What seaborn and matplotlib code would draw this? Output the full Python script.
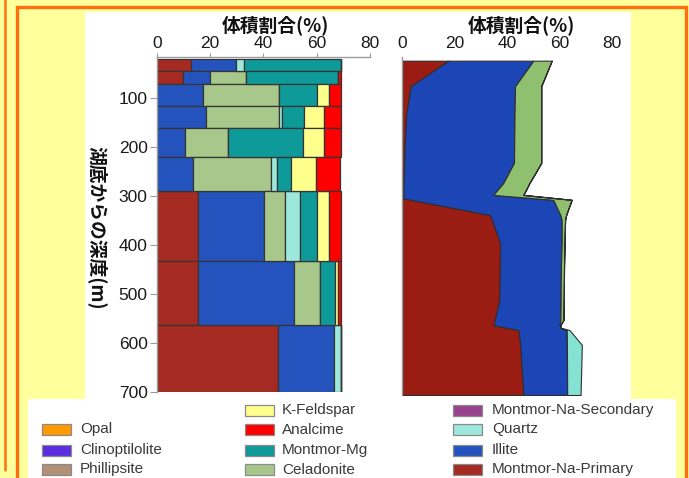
import numpy as np
import pandas as pd
import matplotlib
matplotlib.use("Agg")
import matplotlib.pyplot as plt
from matplotlib.patches import Rectangle
from matplotlib.lines import Line2D
import seaborn as sns

# ---------------------------------------------------------------
# Left panel: mineral volume fractions (%) of the sampled units
# ---------------------------------------------------------------
unit_edges = [21, 46, 73, 117, 163, 221, 291, 433, 563, 700]   # depth (m)

bar_na_primary = [13.0, 10.0, 0, 0, 0, 0, 15.4, 15.4, 45.6]
bar_illite     = [16.6, 10.0, 17.3, 18.5, 10.6, 13.8, 25.0, 36.0, 21.0]
bar_celadonite = [0, 13.6, 28.6, 27.4, 16.3, 28.9, 7.8, 9.8, 0]
bar_quartz     = [3.3, 0, 0, 1.0, 0, 2.6, 5.6, 0, 2.4]
bar_montmor_mg = [36.2, 34.4, 14.1, 8.4, 28.0, 4.9, 6.2, 5.7, 0]
bar_k_feldspar = [0, 0, 4.6, 7.6, 8.0, 9.7, 4.6, 1.1, 0]
bar_analcime   = [0, 1.0, 4.4, 6.2, 6.2, 9.0, 4.4, 1.0, 0]

# ---------------------------------------------------------------
# Right panel: simulated volume fractions (%) along the depth
# ---------------------------------------------------------------
sim_depth      = [20, 72, 130, 181, 228, 269, 293, 300, 303, 334, 344,
                  391, 439, 507, 547, 558, 563, 568, 598, 700]
sim_na_primary = [17.6, 3.2, 1.5, 1.0, 0.7, 0.5, 0.4, 0.4, 3.3, 33.5, 34.2,
                  37.3, 37.2, 37.0, 35.3, 34.8, 39.5, 44.3, 45.0, 46.2]
sim_illite     = [32.4, 39.8, 41.3, 41.7, 41.9, 38.0, 34.3, 50.3, 54.3, 26.8, 26.6,
                  23.5, 23.3, 23.4, 25.0, 25.2, 20.8, 18.4, 17.8, 16.7]
sim_celadonite = [7.0, 10.0, 10.2, 10.3, 10.4, 10.0, 11.5, 8.4, 7.0, 2.2, 1.3,
                  1.1, 1.2, 1.2, 1.2, 0.3, 0, 0, 0, 0]
sim_quartz     = [0, 0, 0, 0, 0, 0, 0, 0, 0, 0, 0,
                  0, 0, 0, 0, 0, 0, 1.1, 5.7, 5.1]

x_ticks = [0, 20, 40, 60, 80]
depth_ticks = [100, 200, 300, 400, 500, 600, 700]

legend_columns = [
    ["", "Opal", "Clinoptilolite", "Phillipsite"],
    ["K-Feldspar", "Analcime", "Montmor-Mg", "Celadonite"],
    ["Montmor-Na-Secondary", "Quartz", "Illite", "Montmor-Na-Primary"],
]

palette = {
    "Opal": "#ff9a00",
    "Clinoptilolite": "#5a2ee0",
    "Phillipsite": "#b39076",
    "K-Feldspar": "#ffff8c",
    "Analcime": "#ff0000",
    "Montmor-Mg": "#0e9a98",
    "Celadonite": "#a7c88a",
    "Montmor-Na-Secondary": "#98428e",
    "Quartz": "#9ce8dc",
    "Illite": "#2553be",
    "Montmor-Na-Primary": "#a52a22",
}
area_palette = {
    "Montmor-Na-Primary": "#9b1c12",
    "Illite": "#1c45b5",
    "Celadonite": "#8fc070",
    "Quartz": "#86e3d3",
}

# ---------------------------------------------------------------
sns.set_style("ticks")
plt.rcParams["font.family"] = ["Liberation Sans", "Noto Sans CJK JP"]
plt.rcParams["axes.linewidth"] = 1.0

W, H = 689, 478
fig = plt.figure(figsize=(W / 100, H / 100), dpi=100, facecolor="#ffff9c")


def fx(x):
    return x / W


def fy(y):
    return 1 - y / H


def px_rect(x0, y0, x1, y1, **kw):
    r = Rectangle((fx(x0), fy(y1)), (x1 - x0) / W, (y1 - y0) / H,
                  transform=fig.transFigure, **kw)
    fig.add_artist(r)
    return r


orange = "#ff6f0f"
# slide frame and white panels
fig.add_artist(Line2D([fx(4.5), fx(4.5)], [fy(0), fy(470)], color=orange,
                      lw=1.8, transform=fig.transFigure, zorder=-3))
px_rect(17, 6.5, 685.5, 520, facecolor="none", edgecolor=orange, lw=2.4, zorder=-3)
px_rect(85, 12, 631, 400, facecolor="white", edgecolor="none", zorder=-2)
px_rect(28, 399, 676, 480, facecolor="white", edgecolor="none", zorder=-2)

# ---------------- left: stacked bars per unit ------------------
ax1 = fig.add_axes([fx(156.7), fy(392), (370 - 156.7) / W, (392 - 57.3) / H])
ax1.set_facecolor("white")

unit_mid = [(a + b) / 2 for a, b in zip(unit_edges[:-1], unit_edges[1:])]
bar_series = {
    "Montmor-Na-Primary": bar_na_primary,
    "Illite": bar_illite,
    "Celadonite": bar_celadonite,
    "Quartz": bar_quartz,
    "Montmor-Mg": bar_montmor_mg,
    "K-Feldspar": bar_k_feldspar,
    "Analcime": bar_analcime,
}
rows = []
for name, vals in bar_series.items():
    for d, v in zip(unit_mid, vals):
        if v > 0:
            rows.append((d, name, v))
bars = pd.DataFrame(rows, columns=["depth", "mineral", "pct"])
stack_order = list(bar_series.keys())

sns.histplot(data=bars, y="depth", weights="pct", hue="mineral",
             hue_order=stack_order[::-1], bins=unit_edges, multiple="stack",
             palette=palette, alpha=1, edgecolor="#353535", linewidth=0.9,
             legend=False, ax=ax1)

ax1.set_xlim(0, 80)
ax1.set_ylim(700, 18)
ax1.set_xlabel("")
ax1.set_ylabel("")
ax1.set_xticks(x_ticks)
ax1.set_yticks(depth_ticks)
ax1.xaxis.tick_top()
ax1.tick_params(axis="x", top=True, bottom=False, labeltop=True, labelbottom=False,
                length=3, width=0.8, pad=1.5, labelsize=12.5, color="#999999",
                labelcolor="#1a1a1a")
ax1.tick_params(axis="y", left=True, length=5, width=0.8, pad=1.5, labelsize=12.5,
                color="#999999", labelcolor="#1a1a1a")
for side in ("right", "bottom"):
    ax1.spines[side].set_visible(False)
for side in ("top", "left"):
    ax1.spines[side].set_color("#9a9a9a")

# ---------------- right: stacked areas along depth -------------
ax2 = fig.add_axes([fx(402.3), fy(395), (612 - 402.3) / W, (395 - 57) / H])
ax2.set_facecolor("white")

area_series = {
    "Montmor-Na-Primary": sim_na_primary,
    "Illite": sim_illite,
    "Celadonite": sim_celadonite,
    "Quartz": sim_quartz,
}
depth = np.array(sim_depth, dtype=float)
left = np.zeros_like(depth)
for name, vals in area_series.items():
    right = left + np.array(vals, dtype=float)
    ax2.fill_betweenx(depth, left, right, facecolor=area_palette[name],
                      edgecolor="#2e2e2e", linewidth=0.8)
    left = right

ax2.set_xlim(0, 80)
ax2.set_ylim(700, 12.5)
ax2.set_xticks(x_ticks)
ax2.set_yticks([])
ax2.xaxis.tick_top()
ax2.tick_params(axis="x", top=True, bottom=False, labeltop=True, labelbottom=False,
                length=0, pad=4.5, labelsize=12.5, labelcolor="#1a1a1a")
for side in ("right", "bottom", "top"):
    ax2.spines[side].set_visible(False)
ax2.spines["left"].set_color("#9a9a9a")

# ---------------- titles and axis label ------------------------
cjk = ["Noto Sans CJK JP", "DejaVu Sans"]
fig.text(fx(275), fy(25.5), "体積割合(%)", ha="center", va="center",
         fontsize=13.5, fontweight="bold", family=cjk, color="#111111")
fig.text(fx(521), fy(25.5), "体積割合(%)", ha="center", va="center",
         fontsize=13.5, fontweight="bold", family=cjk, color="#111111")
fig.text(fx(97.5), fy(228), "湖底からの深度(m)", ha="center", va="center",
         rotation=270, fontsize=13.5, fontweight="bold", family=cjk, color="#111111")

# ---------------- legend ---------------------------------------
col_patch_x = [41.5, 245, 453]
col_text_x = [80, 282, 492]
row_y = [410, 429.5, 450, 469.5]
for c, names in enumerate(legend_columns):
    for r, name in enumerate(names):
        if not name:
            continue
        y = row_y[r]
        px_rect(col_patch_x[c], y - 5.5, col_patch_x[c] + 29, y + 5.5,
                facecolor=palette[name], edgecolor="#8a8a8a", lw=0.9, zorder=2)
        fig.text(fx(col_text_x[c]), fy(y), name, ha="left", va="center",
                 fontsize=11, color="#3a3a3a")

fig.savefig("out.png", dpi=100, facecolor=fig.get_facecolor())
